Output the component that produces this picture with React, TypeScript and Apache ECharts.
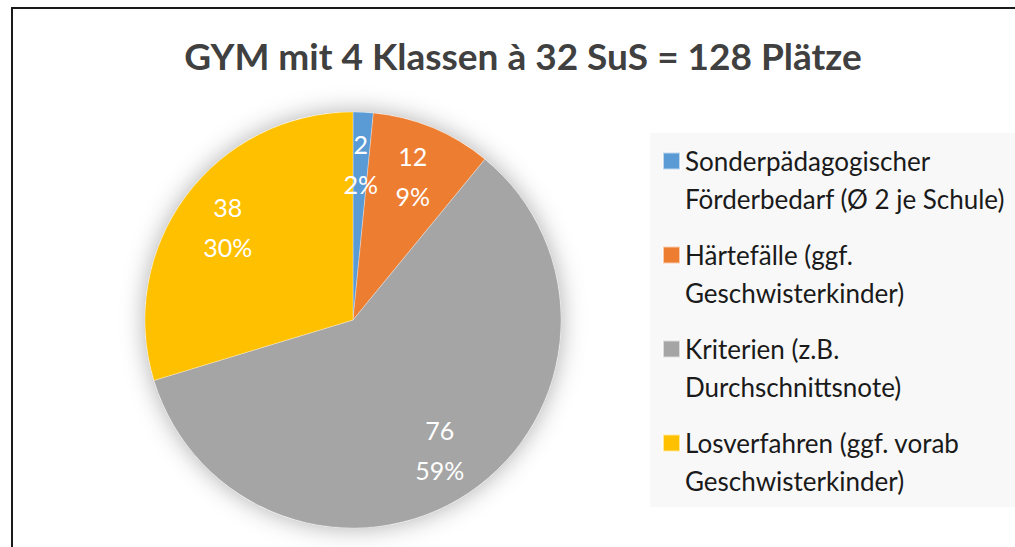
import React, { useEffect, useRef } from "react";
import * as echarts from "echarts";

const titleText = "GYM mit 4 Klassen à 32 SuS = 128 Plätze";
const categories = [
  "Sonderpädagogischer\nFörderbedarf (Ø 2 je Schule)",
  "Härtefälle (ggf.\nGeschwisterkinder)",
  "Kriterien (z.B.\nDurchschnittsnote)",
  "Losverfahren (ggf. vorab\nGeschwisterkinder)",
];
const values = [2, 12, 76, 38];
const colors = ["#5B9BD5", "#ED7D31", "#A5A5A5", "#FFC000"];

const FONT = "Lato";

export default function App() {
  const ref = useRef<HTMLDivElement>(null);
  useEffect(() => {
    if (!ref.current) return;
    const chart = echarts.init(ref.current, null, { renderer: "svg" });
    const total = values.reduce((a, b) => a + b, 0);
    const data = categories.map((name, i) => ({ name, value: values[i], itemStyle: { color: colors[i] } }));
    const center = [353, 320];
    chart.setOption({
      animation: false,
      backgroundColor: "#ffffff",
      textStyle: { fontFamily: FONT },
      title: {
        text: titleText,
        left: 518,
        textAlign: "center",
        top: 32,
        textStyle: { fontFamily: FONT, fontSize: 37, fontWeight: "bold", color: "#404040" },
      },
      graphic: [
        {
          type: "rect",
          z: -10,
          shape: { x: 12, y: 8, width: 1100, height: 600 },
          style: { fill: "none", stroke: "#1a1a1a", lineWidth: 2 },
        },
        {
          type: "rect",
          z: -5,
          shape: { x: 650, y: 133, width: 400, height: 374 },
          style: { fill: "#f8f8f8" },
        },
      ],
      legend: {
        orient: "vertical",
        left: 662,
        top: 104,
        padding: 0,
        itemWidth: 17,
        itemHeight: 17,
        itemGap: -20,
        icon: "rect",
        data: categories,
        formatter: (name: string) => "\n" + name,
        textStyle: { fontFamily: FONT, fontSize: 26, lineHeight: 38, color: "#1a1a1a" },
      },
      series: [
        {
          type: "pie",
          name: "shadow",
          silent: true,
          z: 1,
          center,
          radius: 208,
          label: { show: false },
          labelLine: { show: false },
          data: [{ name: "total", value: total, itemStyle: { color: "#ffffff", shadowBlur: 24, shadowColor: "rgba(0,0,0,0.32)" } }],
        },
        {
          type: "pie",
          name: "main",
          z: 2,
          center,
          radius: 208,
          startAngle: 90,
          clockwise: true,
          label: { show: false },
          labelLine: { show: false },
          itemStyle: { borderColor: "rgba(255,255,255,0.6)", borderWidth: 0.5 },
          data,
        },
        {
          type: "pie",
          name: "labels",
          silent: true,
          z: 3,
          center,
          radius: [98, 208],
          startAngle: 90,
          clockwise: true,
          avoidLabelOverlap: false,
          percentPrecision: 0,
          minShowLabelAngle: 0,
          itemStyle: { color: "rgba(0,0,0,0)" },
          labelLine: { show: false },
          label: {
            show: true,
            position: "inside",
            formatter: "{c}\n{d}%",
            color: "#ffffff",
            fontFamily: FONT,
            fontSize: 25,
            lineHeight: 40,
          },
          data: categories.map((name, i) => ({ name, value: values[i], itemStyle: { color: "rgba(0,0,0,0)" } })),
        },
      ],
    });
    return () => chart.dispose();
  }, []);
  return (
    <div
      ref={ref}
      style={{ position: "fixed", left: 0, top: 0, width: 1015, height: 547 }}
    />
  );
}
